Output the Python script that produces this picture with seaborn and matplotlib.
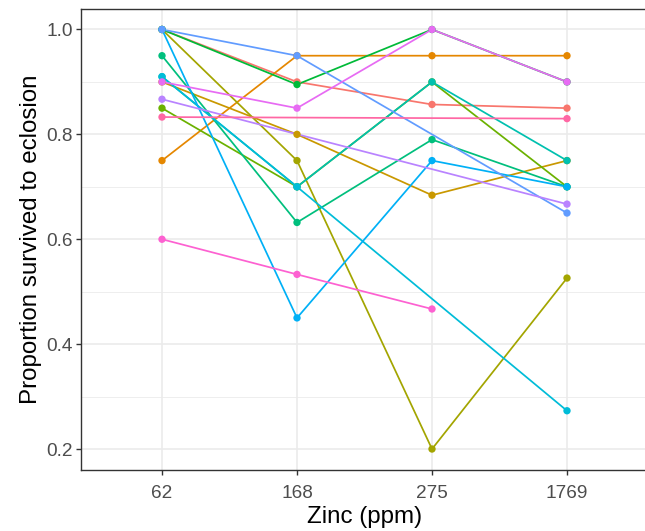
import matplotlib
matplotlib.use("Agg")
import matplotlib.pyplot as plt
import numpy as np
import pandas as pd
import seaborn as sns
from matplotlib.ticker import MultipleLocator, FixedLocator

zinc_levels = ["62", "168", "275", "1769"]
line_ids = [str(i) for i in range(1, 16)]

# survival proportion per line at each zinc level (nan = not measured)
survival = [
    [1.00, 0.900, 0.857, 0.850],
    [0.75, 0.950, 0.950, 0.950],
    [0.90, 0.800, 0.684, 0.750],
    [1.00, 0.750, 0.200, 0.526],
    [0.85, 0.700, 0.900, 0.700],
    [1.00, 0.895, 1.000, 0.900],
    [0.95, 0.632, 0.790, 0.700],
    [0.91, 0.700, 0.900, 0.750],
    [0.91, 0.700, np.nan, 0.273],
    [1.00, 0.450, 0.750, 0.700],
    [1.00, 0.950, np.nan, 0.650],
    [0.867, np.nan, np.nan, 0.667],
    [0.90, 0.850, 1.000, 0.900],
    [0.60, 0.533, 0.467, np.nan],
    [0.833, np.nan, np.nan, 0.830],
]

hue_colors = ["#F8766D", "#E58700", "#C99800", "#A3A500", "#6BB100",
              "#00BA38", "#00BF7D", "#00C0AF", "#00BCD8", "#00B0F6",
              "#619CFF", "#B983FF", "#E76BF3", "#FD61D1", "#FF67A4"]

rows = []
for lid, vals in zip(line_ids, survival):
    for z, v in zip(zinc_levels, vals):
        rows.append({"line": lid, "zinc": z, "prop": v})
df = pd.DataFrame(rows).dropna()
df["zinc"] = pd.Categorical(df["zinc"], categories=zinc_levels, ordered=True)
df["xpos"] = df["zinc"].cat.codes

sns.set_style("white")
plt.rcParams["font.family"] = ["Liberation Sans", "DejaVu Sans"]

fig = plt.figure(figsize=(6.45, 5.31), dpi=100)
W, H = 645, 531
ax = fig.add_axes([81 / W, 1 - 470 / H, (648 - 81) / W, (470 - 8.5) / H])

pal = dict(zip(line_ids, hue_colors))
sns.lineplot(data=df, x="xpos", y="prop", hue="line", units="line",
             estimator=None, palette=pal, legend=False, linewidth=1.25,
             sort=True, ax=ax, zorder=2)
sns.scatterplot(data=df, x="xpos", y="prop", hue="line", palette=pal,
                legend=False, s=28, linewidth=0, ax=ax, zorder=3)

ax.set_xlim(-0.6, 3.6)
ax.xaxis.set_major_locator(FixedLocator(range(len(zinc_levels))))
ax.set_xticklabels(zinc_levels)
ax.yaxis.set_major_locator(MultipleLocator(0.2))
ax.yaxis.set_minor_locator(FixedLocator([0.3, 0.5, 0.7, 0.9]))
ax.set_yticks([0.2, 0.4, 0.6, 0.8, 1.0])
ax.set_yticklabels([f"{t:.1f}" for t in [0.2, 0.4, 0.6, 0.8, 1.0]])
ax.set_ylim(0.16, 1.04)

ax.grid(True, which="major", color="#EBEBEB", linewidth=1.2, zorder=0)
ax.grid(True, which="minor", axis="y", color="#EBEBEB", linewidth=0.6, zorder=0)
ax.set_axisbelow(True)
for sp in ax.spines.values():
    sp.set_color("#333333")
    sp.set_linewidth(1.0)

ax.tick_params(axis="both", which="major", length=3.5, width=1.0,
               color="#333333", labelcolor="#4D4D4D", labelsize=13.7,
               left=True, bottom=True)
ax.tick_params(axis="x", which="major", pad=7)
ax.tick_params(axis="y", which="major", pad=2.5)
ax.tick_params(axis="y", which="minor", length=0)

ax.set_xlabel("Zinc (ppm)", fontsize=17.4, color="black", labelpad=3)
ax.set_ylabel("Proportion survived to eclosion", fontsize=17.4,
              color="black", labelpad=3)

fig.savefig("out.png", dpi=100)
